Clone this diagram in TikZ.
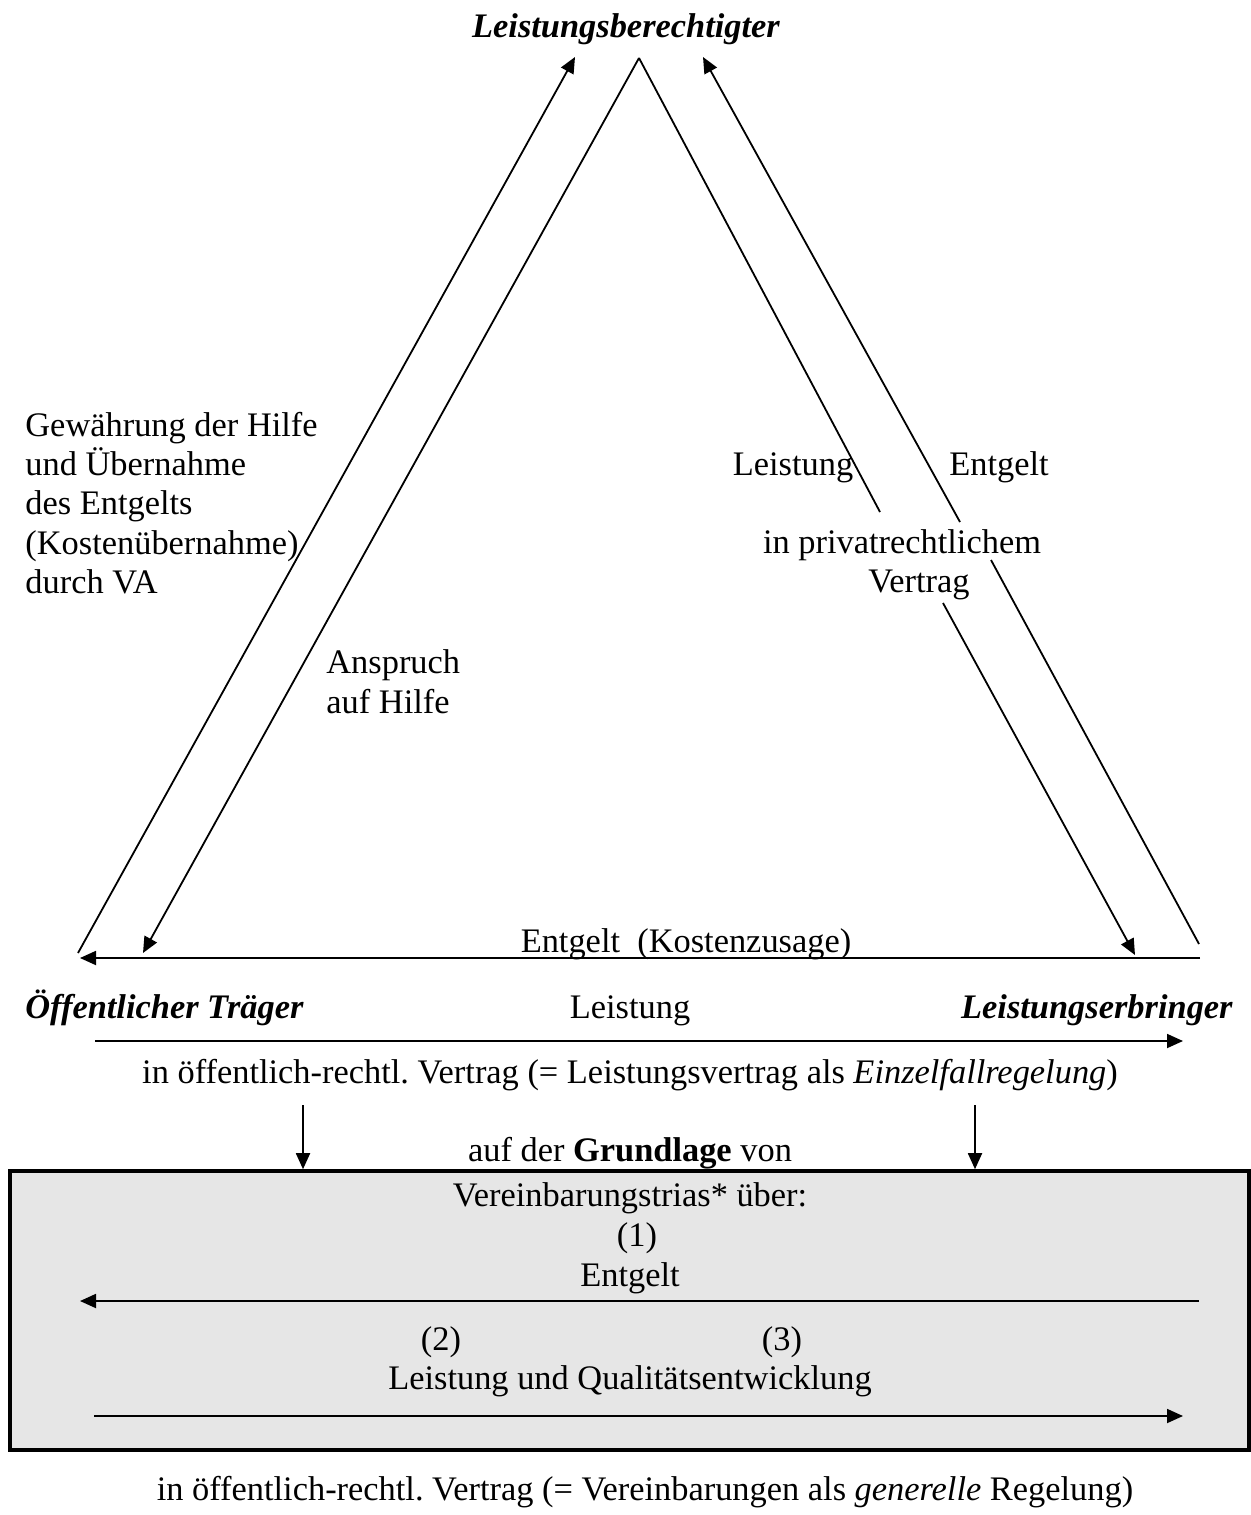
\documentclass[tikz,border=0pt]{standalone}
\usepackage{fontspec}
\setmainfont{Liberation Serif}
\usetikzlibrary{arrows.meta,positioning,calc}
\definecolor{triasgray}{RGB}{230,230,230}
\frenchspacing

\begin{document}
\begin{tikzpicture}[x=0.5pt, y=-0.5pt,
    every node/.style={font=\fontsize{17.2}{19.65}\selectfont, inner sep=0pt},
    party/.style={font=\fontsize{17.2}{19.65}\selectfont\bfseries\itshape, anchor=base},
    lbl/.style={anchor=base},
    flow/.style={line width=0.9pt},
    flowarrow/.style={flow, -{Triangle[length=8pt, width=7pt]}},
    triasbox/.style={draw, line width=1.8pt, fill=triasgray, minimum width=619.5pt, minimum height=139.5pt}]
  \useasboundingbox (0,0) rectangle (1251,1515);

  % Parteien
  \node[party] (berechtigter) at (626,37) {Leistungsberechtigter};
  \node[party, anchor=base west] (traeger) at (25,1018) {Öffentlicher Träger};
  \node[party, anchor=base east] (erbringer) at (1233,1018) {Leistungserbringer};

  % Endpunkte der Dreiecksseiten
  \coordinate (apex) at (639,58);
  \coordinate (tipL) at (575,57);
  \coordinate (tipR) at (703,57);
  \coordinate (footLa) at (78,953);
  \coordinate (footLb) at (143,953);
  \coordinate (footRa) at (1135,955);
  \coordinate (footRb) at (1199,944);
  % Unterbrechungen rechts
  \coordinate (gapIa) at (880,512);
  \coordinate (gapIb) at (943,603);
  \coordinate (gapOa) at (960,522);
  \coordinate (gapOb) at (991,560);

  % linke Seite
  \draw[flowarrow] (footLa) -- (tipL);
  \draw[flowarrow] (apex) -- (footLb);
  % rechte Seite
  \draw[flow] (apex) -- (gapIa);
  \draw[flowarrow] (gapIb) -- (footRa);
  \draw[flow] (footRb) -- (gapOb);
  \draw[flowarrow] (gapOa) -- (tipR);

  % Texte an den Seiten
  \node[anchor=north west, align=left] (gewaehrung) at (25,411.5) {Gewährung der Hilfe\\und Übernahme\\des Entgelts\\(Kostenübernahme)\\durch VA};
  \node[anchor=north west, align=left] (anspruch) at (326,649.5) {Anspruch\\auf Hilfe};
  \node[lbl] (leistungR) at (793,475) {Leistung};
  \node[lbl] (entgeltR) at (999,475) {Entgelt};
  \node[lbl] (privat) at (902,553) {in privatrechtlichem};
  \node[lbl] (vertragP) at (919,592) {Vertrag};

  % Basis: Entgelt und Leistung
  \coordinate (entgeltStart) at (1200,958);
  \coordinate (entgeltEnd) at (80,958);
  \draw[flowarrow] (entgeltStart) -- (entgeltEnd);
  \node[lbl] (kosten) at (686,952) {Entgelt\ \ (Kostenzusage)};

  \coordinate (leistungStart) at (95,1041);
  \coordinate (leistungEnd) at (1183,1041);
  \draw[flowarrow] (leistungStart) -- (leistungEnd);
  \node[lbl] (leistungM) at (630,1018) {Leistung};
  \node[lbl] (einzelfall) at (630,1083) {in öffentlich-rechtl. Vertrag (= Leistungsvertrag als \textit{Einzelfallregelung})};

  % Grundlage
  \node[lbl] (grundlage) at (630,1161) {auf der \textbf{Grundlage} von};
  \node[triasbox] (trias) at (629.5,1310.5) {};
  \coordinate (downL) at (303,1105);
  \coordinate (downR) at (975,1105);
  \draw[flowarrow] (downL) -- (downL |- trias.north);
  \draw[flowarrow] (downR) -- (downR |- trias.north);

  % Inhalt der Vereinbarungstrias
  \node[lbl] (triasTitle) at (630,1206) {Vereinbarungstrias* über:};
  \node[lbl] (nrEins) at (637,1246) {(1)};
  \node[lbl] (entgeltV) at (630,1286) {Entgelt};
  \coordinate (vEntgeltStart) at (1199,1301);
  \coordinate (vEntgeltEnd) at (80,1301);
  \draw[flowarrow] (vEntgeltStart) -- (vEntgeltEnd);
  \node[lbl] (nrZwei) at (441,1350) {(2)};
  \node[lbl] (nrDrei) at (782,1350) {(3)};
  \node[lbl] (qualitaet) at (630,1389) {Leistung und Qualitätsentwicklung};
  \coordinate (vLeistungStart) at (94,1416);
  \coordinate (vLeistungEnd) at (1183,1416);
  \draw[flowarrow] (vLeistungStart) -- (vLeistungEnd);

  \node[lbl] (generell) at (645,1500) {in öffentlich-rechtl. Vertrag (= Vereinbarungen als \textit{generelle} Regelung)};
\end{tikzpicture}
\end{document}
